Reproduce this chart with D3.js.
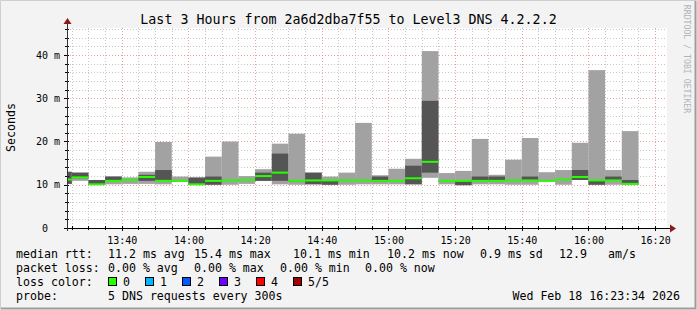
<!DOCTYPE html>
<html><head><meta charset="utf-8">
<script src="https://cdn.jsdelivr.net/npm/d3@7"></script>
<style>
body{margin:0;background:#f3f3f3}
svg{display:block}
text{font-family:"DejaVu Sans Mono",monospace;fill:#000}
</style>
</head><body>
<svg id="c" width="697" height="310"></svg>
<script>
// ---------- data ----------
const starts = ["13:20","13:25","13:30","13:35","13:40","13:45","13:50","13:55","14:00","14:05","14:10","14:15","14:20","14:25","14:30","14:35","14:40","14:45","14:50","14:55","15:00","15:05","15:10","15:15","15:20","15:25","15:30","15:35","15:40","15:45","15:50","15:55","16:00","16:05","16:10"];
const pingMin = [10.2,10.9,10.0,10.1,10.2,10.2,10.1,10.7,10.0,10.0,10.0,10.2,10.9,10.1,10.0,10.1,10.0,10.0,10.1,10.1,10.1,10.1,11.6,10.1,9.9,10.1,10.1,10.0,10.0,10.8,10.0,11.1,10.0,10.0,10.1];
const ping2   = [10.2,11.5,10.0,10.8,11.0,10.9,10.8,10.8,10.0,10.0,10.9,10.9,10.9,10.9,10.7,10.1,10.0,10.9,10.9,10.7,10.8,10.1,12.8,10.8,9.9,10.8,10.8,10.9,10.9,10.8,11.1,11.1,10.0,10.9,10.1];
const median  = [11.2,11.7,10.1,10.9,11.1,11.8,10.9,10.9,10.1,10.9,11.0,11.1,12.0,12.8,10.9,11.0,11.0,11.0,11.0,10.9,10.9,11.5,15.3,10.9,10.9,10.9,10.9,11.0,11.0,10.9,11.2,11.8,11.0,11.0,10.2];
const ping4   = [13.0,12.8,11.1,11.9,11.3,12.3,13.4,11.0,11.6,11.9,11.1,11.3,12.8,17.2,11.0,12.8,11.0,11.1,11.1,11.9,11.0,14.4,29.4,11.0,10.9,11.9,11.9,11.1,11.9,11.0,11.3,13.4,11.0,11.9,11.1];
const pingMax = [13.0,12.8,11.1,11.9,11.7,13.0,19.9,11.9,11.8,16.5,20.0,12.0,13.6,19.5,21.8,12.8,11.9,12.8,24.3,12.2,13.7,16.0,40.9,12.7,13.2,20.6,12.3,15.8,20.8,12.9,13.4,19.7,36.5,13.4,22.4];

const yTickValues = [0,10,20,30,40];
const yTickLabels = ["0","10 m","20 m","30 m","40 m"];
const xTickLabels = ["13:40","14:00","14:20","14:40","15:00","15:20","15:40","16:00","16:20"];

const titleText = "Last 3 Hours from 2a6d2dba7f55 to Level3 DNS 4.2.2.2";
const rttLabels = ["11.2 ms avg","15.4 ms max","10.1 ms min","10.2 ms now","0.9 ms sd","12.9","am/s"];
const lossLabels = ["0.00 % avg","0.00 % max","0.00 % min","0.00 % now"];
const lossNames = ["0","1","2","3","4","5/5"];
const lossColors = ["#26ff00","#00b8ff","#0059ff","#7000ff","#ff0000","#a10000"];
const probeText = "5 DNS requests every 300s";
const dateText = "Wed Feb 18 16:23:34 2026";

// ---------- setup ----------
const parse = d3.timeParse("%Y-%m-%d %H:%M:%S");
const T = s => parse("2026-02-18 " + (s.length === 5 ? s + ":00" : s));
const t0 = T("13:23:34"), t1 = T("16:23:34");
const L = 67, R = 667, TOP = 28, BOT = 228;

const x = d3.scaleTime().domain([t0, t1]).range([L, R]);
const y = d3.scaleLinear().domain([0, 46.24]).range([BOT, TOP]);

const svg = d3.select("#c");
svg.append("rect").attr("width",697).attr("height",310).attr("fill","#f3f3f3");
// 3d border
svg.append("path").attr("d","M0.5,309.5V0.5H696.5").attr("stroke","#cfcfcf").attr("fill","none");
svg.append("path").attr("d","M1,308.5H695.5V1").attr("stroke","#9e9e9e").attr("stroke-width",2).attr("fill","none");

// canvas
svg.append("rect").attr("x",L).attr("y",TOP).attr("width",R-L).attr("height",BOT-TOP).attr("fill","#ffffff");

// grid
const grid = svg.append("g");
const minorTimes = d3.timeMinute.every(5).range(T("13:25"), T("16:23"));
minorTimes.forEach(t => {
  const major = t.getMinutes() % 20 === 0;
  const xx = Math.round(x(t)) + 0.5;
  grid.append("line").attr("x1",xx).attr("x2",xx).attr("y1",TOP).attr("y2",BOT)
    .attr("stroke", major ? "#f0a0a0" : "#c8c8c8").attr("stroke-dasharray","1,2");
});
d3.range(2, 46.2, 2).forEach(v => {
  const major = v % 10 === 0;
  const yy = Math.round(y(v)) + 0.5;
  grid.append("line").attr("x1",L).attr("x2",R).attr("y1",yy).attr("y2",yy)
    .attr("stroke", major ? "#f0a0a0" : "#c8c8c8").attr("stroke-dasharray","1,2");
});

// smoke bars
const bars = svg.append("g");
const clip = v => Math.max(L, Math.min(R, v));
starts.forEach((s, i) => {
  const a = T(s), b = d3.timeMinute.offset(a, 5);
  const x0 = clip(x(a)), x1 = clip(x(b));
  bars.append("rect").attr("x",x0).attr("width",x1-x0)
    .attr("y",y(pingMax[i])).attr("height",y(pingMin[i])-y(pingMax[i])).attr("fill","#a2a2a2");
  bars.append("rect").attr("x",x0).attr("width",x1-x0)
    .attr("y",y(ping4[i])).attr("height",Math.max(0,y(ping2[i])-y(ping4[i]))).attr("fill","#555555");
  bars.append("rect").attr("x",x0).attr("width",x1-x0)
    .attr("y",y(median[i])-1).attr("height",2).attr("fill",lossColors[0]);
});

// ticks on axes
const ticks = svg.append("g").attr("stroke","#000");
minorTimes.forEach(t => {
  const xx = Math.round(x(t)) + 0.5;
  const major = t.getMinutes() % 20 === 0;
  ticks.append("line").attr("x1",xx).attr("x2",xx).attr("y1",BOT-2).attr("y2",BOT+(major?3:2));
});
d3.range(2, 46.2, 2).forEach(v => {
  const yy = Math.round(y(v)) + 0.5;
  const major = v % 10 === 0;
  ticks.append("line").attr("x1",L-(major?3:2)).attr("x2",L+2).attr("y1",yy).attr("y2",yy);
});

// axes (labels via d3 axes)
const majorTimes = xTickLabels.map(T);
const xAxis = d3.axisBottom(x).tickValues(majorTimes).tickFormat(d3.timeFormat("%H:%M")).tickSize(0).tickPadding(9);
const gx = svg.append("g").attr("transform",`translate(0,${BOT})`).call(xAxis);
gx.select(".domain").remove();
gx.selectAll("text").attr("font-family","DejaVu Sans Mono").attr("font-size","10px").attr("fill","#000");

const yAxis = d3.axisLeft(y).tickValues(yTickValues).tickFormat((d,i) => yTickLabels[i]).tickSize(0).tickPadding(7);
const gy = svg.append("g").attr("transform",`translate(${L},0)`).call(yAxis);
gy.select(".domain").remove();
gy.selectAll("text").attr("font-family","DejaVu Sans Mono").attr("font-size","10px").attr("fill","#000")
  .attr("dx", d => d === 0 ? -12 : 0);

// axis lines + arrows
svg.append("line").attr("x1",L-3).attr("x2",R+5).attr("y1",BOT+0.5).attr("y2",BOT+0.5).attr("stroke","#000");
svg.append("line").attr("x1",L+0.5).attr("x2",L+0.5).attr("y1",BOT+3).attr("y2",TOP-5).attr("stroke","#333");
svg.append("path").attr("d",`M${R+3},${BOT-3.5}L${R+9},${BOT+0.5}L${R+3},${BOT+4.5}Z`).attr("fill","#8b1a1a");
svg.append("path").attr("d",`M${L-3.5},${TOP-4}L${L+0.5},${TOP-10}L${L+4.5},${TOP-4}Z`).attr("fill","#8b1a1a");

// title and side text
svg.append("text").attr("x",348.5).attr("y",23.5).attr("text-anchor","middle").attr("font-size","13.3px").text(titleText);
svg.append("text").attr("transform","translate(14.5,127.5) rotate(-90)").attr("text-anchor","middle").attr("font-size","11.6px").text("Seconds");
svg.append("text").attr("transform","translate(684,59) rotate(90)").attr("text-anchor","middle").attr("font-size","8.2px").style("fill","#b4b4b4").text("RRDTOOL / TOBI OETIKER");

// legend
const fs = "11.6px";
const lg = svg.append("g").attr("font-size",fs);
const row = [258, 272, 286, 300];
lg.append("text").attr("x",16).attr("y",row[0]).text("median rtt:");
[108,194,293,387,480,559,608].forEach((xx,i) => lg.append("text").attr("x",xx).attr("y",row[0]).text(rttLabels[i]));
lg.append("text").attr("x",16).attr("y",row[1]).text("packet loss:");
[108,194,280,365].forEach((xx,i) => lg.append("text").attr("x",xx).attr("y",row[1]).text(lossLabels[i]));
lg.append("text").attr("x",16).attr("y",row[2]).text("loss color:");
const boxX = [108,145,182,219,256,293];
boxX.forEach((xx,i) => {
  lg.append("rect").attr("x",xx+0.5).attr("y",row[2]-8.5).attr("width",8).attr("height",8)
    .attr("fill",lossColors[i]).attr("stroke","#000");
  lg.append("text").attr("x",xx+15).attr("y",row[2]).text(lossNames[i]);
});
lg.append("text").attr("x",16).attr("y",row[3]).text("probe:");
lg.append("text").attr("x",108).attr("y",row[3]).text(probeText);
lg.append("text").attr("x",680).attr("y",row[3]).attr("text-anchor","end").text(dateText);
</script>
</body></html>
